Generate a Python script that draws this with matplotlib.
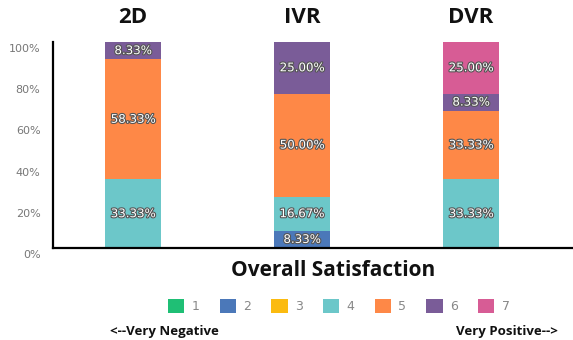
import matplotlib
matplotlib.use("Agg")
import matplotlib.pyplot as plt
import matplotlib.patheffects as pe
from matplotlib.patches import Patch
from matplotlib.transforms import ScaledTranslation, blended_transform_factory

conditions = ["2D", "IVR", "DVR"]
levels = ["1", "2", "3", "4", "5", "6", "7"]
level_values = {
    "1": [0.0, 0.0, 0.0],
    "2": [0.0, 8.33, 0.0],
    "3": [0.0, 0.0, 0.0],
    "4": [33.33, 16.67, 33.33],
    "5": [58.33, 50.00, 33.33],
    "6": [8.33, 25.00, 8.33],
    "7": [0.0, 0.0, 25.00],
}
level_colors = ["#1fbf75", "#4b78b9", "#fbbb10", "#6cc7c9", "#fe8847", "#7a5c98", "#d75c95"]
yticks = [0, 20, 40, 60, 80, 100]
ytick_labels = ["0%", "20%", "40%", "60%", "80%", "100%"]

fig = plt.figure(figsize=(5.73, 3.40), dpi=100)
W, H = 573, 340
ax = fig.add_axes([53 / W, 1 - 248 / H, 1 - 53 / W, (248 - 42) / H])

x = list(range(len(conditions)))
bottoms = [0.0] * len(conditions)
for lvl, col in zip(levels, level_colors):
    vals = level_values[lvl]
    ax.bar(x, vals, bottom=bottoms, width=0.33, color=col, edgecolor="none")
    for i, v in enumerate(vals):
        if v > 0:
            ax.text(x[i], bottoms[i] + v / 2, f"{v:.2f}%", ha="center", va="center",
                    fontsize=8.5, color="white", family="DejaVu Sans",
                    path_effects=[pe.withStroke(linewidth=1.6, foreground="#555555")])
    bottoms = [b + v for b, v in zip(bottoms, vals)]

ax.set_xlim(-0.473, 2.604)
ax.set_ylim(0, 100)
ax.set_xticks([])
ax.set_yticks(yticks)
ax.set_yticklabels(ytick_labels, fontsize=8, color="#777777")
ax.tick_params(axis="y", length=0, pad=9)
offset = ScaledTranslation(0, -6 / 100, fig.dpi_scale_trans)
for lab in ax.get_yticklabels():
    lab.set_transform(lab.get_transform() + offset)

for s in ["top", "right"]:
    ax.spines[s].set_visible(False)
for s in ["left", "bottom"]:
    ax.spines[s].set_linewidth(1.6)
    ax.spines[s].set_color("black")

trans = blended_transform_factory(ax.transData, ax.transAxes)
for i, c in enumerate(conditions):
    ax.text(x[i], 1.117, c, transform=trans, ha="center", va="center",
            fontsize=16, fontweight="bold", family="Open Sans", color="#111111")

fig.text(333 / W, 1 - 270 / H, "Overall Satisfaction", ha="center", va="center",
         fontsize=15, fontweight="bold", family="Open Sans", color="#111111")

handles = [Patch(facecolor=c, edgecolor="none") for c in level_colors]
leg = fig.legend(handles, levels, loc="center", bbox_to_anchor=(339 / W, 1 - 306 / H),
                 ncol=7, frameon=False, fontsize=9, handlelength=1.3, handleheight=1.4,
                 handletextpad=0.6, columnspacing=1.6)
for t in leg.get_texts():
    t.set_color("#888888")

fig.text(110 / W, 1 - 331 / H, "<--Very Negative", ha="left", va="center",
         fontsize=9.5, fontweight="bold", family="Open Sans", color="#111111")
fig.text(558 / W, 1 - 331 / H, "Very Positive-->", ha="right", va="center",
         fontsize=9.5, fontweight="bold", family="Open Sans", color="#111111")

fig.savefig("out.png", dpi=100)
